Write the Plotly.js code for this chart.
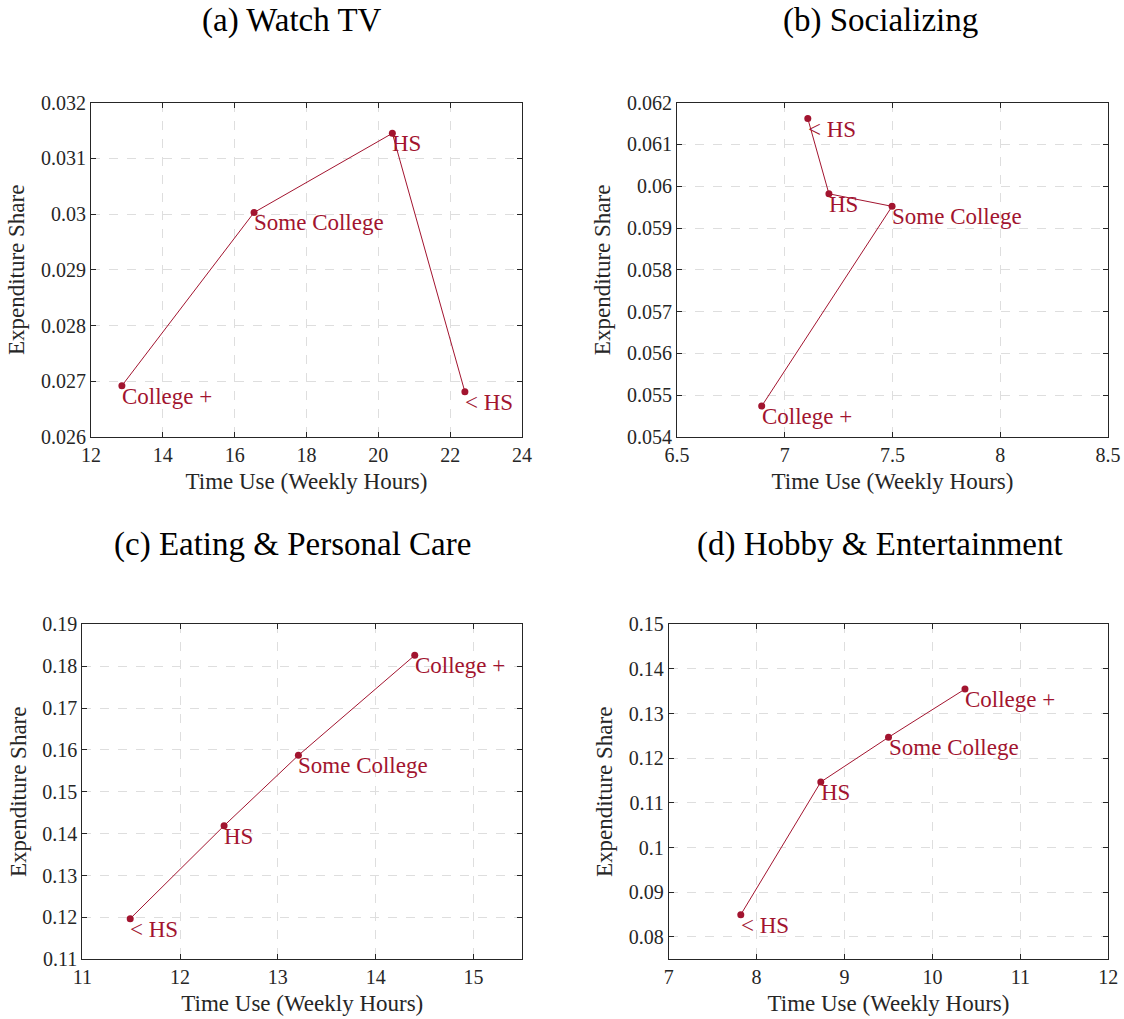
<!DOCTYPE html>
<html>
<head>
<meta charset="utf-8">
<script src="https://cdn.plot.ly/plotly-3.0.1.min.js"></script>
<style>html,body{margin:0;padding:0;background:#fff;}#chart{width:1124px;height:1019px;}</style>
</head>
<body>
<div id="chart"></div>
<script>
// Panel titles
const panelTitles = ["(a) Watch TV", "(b) Socializing", "(c) Eating &amp; Personal Care", "(d) Hobby &amp; Entertainment"];
const xTitle = "Time Use (Weekly Hours)";
const yTitle = "Expenditure Share";

// (a) Watch TV
const aLabels = ["College +", "Some College", "HS", "< HS"];
const aX = [12.86, 16.54, 20.39, 22.41];
const aY = [0.02692, 0.03003, 0.03145, 0.02681];

// (b) Socializing
const bLabels = ["< HS", "HS", "Some College", "College +"];
const bX = [7.107, 7.205, 7.498, 6.893];
const bY = [0.06162, 0.05982, 0.05952, 0.05474];

// (c) Eating & Personal Care
const cLabels = ["< HS", "HS", "Some College", "College +"];
const cX = [11.49, 12.45, 13.21, 14.40];
const cY = [0.1197, 0.1419, 0.1587, 0.1826];

// (d) Hobby & Entertainment
const dLabels = ["< HS", "HS", "Some College", "College +"];
const dX = [7.82, 8.73, 9.50, 10.37];
const dY = [0.0850, 0.1147, 0.1247, 0.1355];

// Axis ranges and ticks
const aXRange = [12, 24], aYRange = [0.026, 0.032];
const bXRange = [6.5, 8.5], bYRange = [0.054, 0.062];
const cXRange = [11, 15.5], cYRange = [0.11, 0.19];
const dXRange = [7, 12], dYRange = [0.075, 0.15];
const aXTicks = [12, 14, 16, 18, 20, 22, 24];
const aYTicks = [0.026, 0.027, 0.028, 0.029, 0.03, 0.031, 0.032];
const aYTickText = ["0.026", "0.027", "0.028", "0.029", "0.03", "0.031", "0.032"];
const bXTicks = [6.5, 7, 7.5, 8, 8.5];
const bYTicks = [0.054, 0.055, 0.056, 0.057, 0.058, 0.059, 0.06, 0.061, 0.062];
const bYTickText = ["0.054", "0.055", "0.056", "0.057", "0.058", "0.059", "0.06", "0.061", "0.062"];
const cXTicks = [11, 12, 13, 14, 15];
const cYTicks = [0.11, 0.12, 0.13, 0.14, 0.15, 0.16, 0.17, 0.18, 0.19];
const cYTickText = ["0.11", "0.12", "0.13", "0.14", "0.15", "0.16", "0.17", "0.18", "0.19"];
const dXTicks = [7, 8, 9, 10, 11, 12];
const dYTicks = [0.08, 0.09, 0.1, 0.11, 0.12, 0.13, 0.14, 0.15];
const dYTickText = ["0.08", "0.09", "0.1", "0.11", "0.12", "0.13", "0.14", "0.15"];

const RED = "#A2142F";
const SERIF = "Liberation Serif";

function trace(x, y, labels, xa, ya) {
  return {
    type: "scatter", mode: "lines+markers",
    x: x, y: y, text: labels,
    line: {color: RED, width: 1},
    marker: {color: RED, size: 7},
    xaxis: xa, yaxis: ya, cliponaxis: false, hoverinfo: "x+y+text"
  };
}

const data = [
  trace(aX, aY, aLabels, "x", "y"),
  trace(bX, bY, bLabels, "x2", "y2"),
  trace(cX, cY, cLabels, "x3", "y3"),
  trace(dX, dY, dLabels, "x4", "y4")
];

// Point labels placed at the data points through each axis pair
function pointLabels(x, y, labels, xa, ya) {
  return labels.map((t, i) => ({
    text: t.replace("<", "&lt;"), x: x[i], y: y[i], xref: xa, yref: ya,
    xanchor: "left", yanchor: "top", xshift: -2, yshift: 4, showarrow: false,
    font: {family: SERIF, size: 23, color: RED}
  }));
}

const W = 1124, H = 1019;
function xd(l, r) { return [l / W, r / W]; }
function yd(t, b) { return [1 - b / H, 1 - t / H]; }

function xax(domain, range, ticks, anchor) {
  return {
    domain: domain, range: range, tickvals: ticks, anchor: anchor,
    showline: true, mirror: "ticks", linecolor: "#262626", linewidth: 1,
    ticks: "inside", ticklen: 5, tickcolor: "#262626", tickwidth: 1,
    showgrid: true, gridcolor: "#dedede", griddash: "dash", gridwidth: 1,
    zeroline: false, tickfont: {family: SERIF, size: 20, color: "#262626"},
    title: {text: xTitle, font: {family: SERIF, size: 23, color: "#262626"}, standoff: 7}
  };
}
function yax(domain, range, ticks, ticktext, anchor) {
  return {
    domain: domain, range: range, tickvals: ticks, ticktext: ticktext, anchor: anchor,
    showline: true, mirror: "ticks", linecolor: "#262626", linewidth: 1,
    ticks: "inside", ticklen: 5, tickcolor: "#262626", tickwidth: 1,
    showgrid: true, gridcolor: "#dedede", griddash: "dash", gridwidth: 1,
    zeroline: false, tickfont: {family: SERIF, size: 20, color: "#262626"},
    title: {text: yTitle, font: {family: SERIF, size: 23, color: "#262626"}, standoff: 9}
  };
}

const titleAnns = [
  {text: panelTitles[0], x: 292 / W, y: 1 - 21 / H},
  {text: panelTitles[1], x: 880 / W, y: 1 - 21 / H},
  {text: panelTitles[2], x: 292 / W, y: 1 - 544 / H},
  {text: panelTitles[3], x: 880 / W, y: 1 - 544 / H}
].map(a => Object.assign(a, {xref: "paper", yref: "paper", xanchor: "center", yanchor: "middle",
  showarrow: false, font: {family: SERIF, size: 33, color: "#000"}}));

const layout = {
  width: W, height: H, showlegend: false,
  margin: {l: 0, r: 0, t: 0, b: 0},
  paper_bgcolor: "#fff", plot_bgcolor: "#fff",
  xaxis: xax(xd(91, 522), aXRange, aXTicks, "y"),
  yaxis: yax(yd(102.7, 437), aYRange, aYTicks, aYTickText, "x"),
  xaxis2: xax(xd(677, 1108), bXRange, bXTicks, "y2"),
  yaxis2: yax(yd(102.7, 437), bYRange, bYTicks, bYTickText, "x2"),
  xaxis3: xax(xd(82.3, 522.3), cXRange, cXTicks, "y3"),
  yaxis3: yax(yd(624.3, 959.3), cYRange, cYTicks, cYTickText, "x3"),
  xaxis4: xax(xd(668.7, 1108.3), dXRange, dXTicks, "y4"),
  yaxis4: yax(yd(624.3, 959.3), dYRange, dYTicks, dYTickText, "x4"),
  annotations: titleAnns
    .concat(pointLabels(aX, aY, aLabels, "x", "y"))
    .concat(pointLabels(bX, bY, bLabels, "x2", "y2"))
    .concat(pointLabels(cX, cY, cLabels, "x3", "y3"))
    .concat(pointLabels(dX, dY, dLabels, "x4", "y4"))
};

Plotly.newPlot("chart", data, layout, {staticPlot: true, displayModeBar: false});
</script>
</body>
</html>
